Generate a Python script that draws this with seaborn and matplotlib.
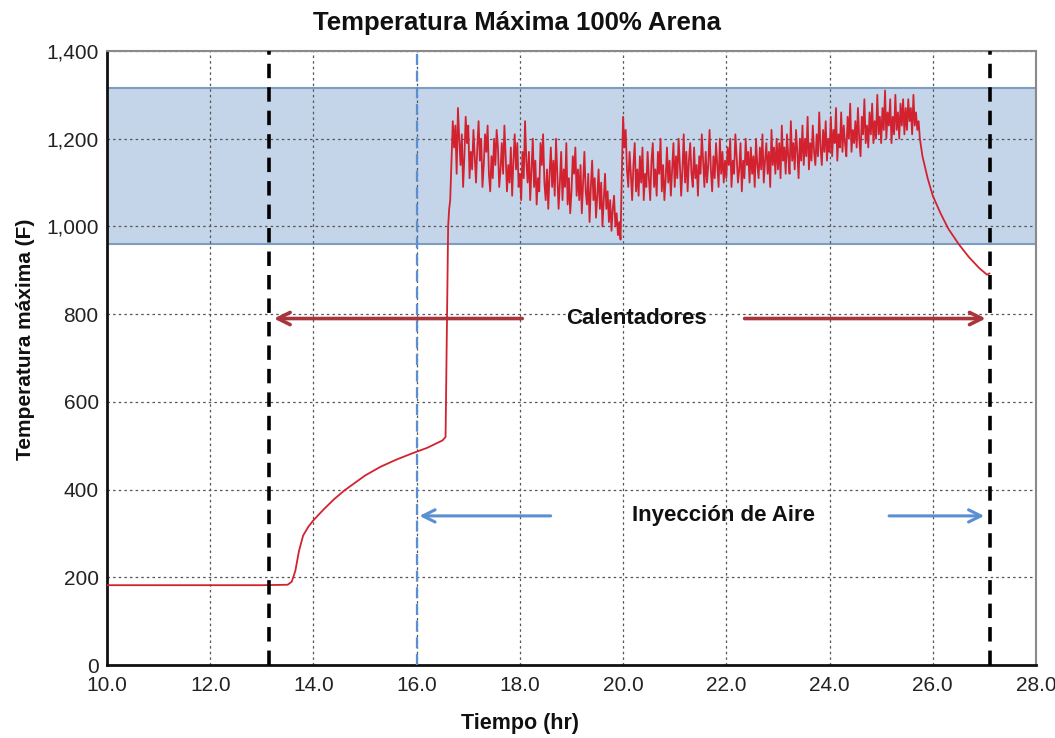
import numpy as np
import pandas as pd
import matplotlib
matplotlib.use("Agg")
import matplotlib.pyplot as plt
import seaborn as sns
from matplotlib.ticker import FuncFormatter

# ---------------- data ----------------
# pre-ignition / heating phase (hours, °F)
heat_time = [10.0, 11.0, 12.0, 13.0, 13.5, 13.58, 13.65, 13.72, 13.8, 13.9, 14.0, 14.2, 14.4,
             14.6, 14.8, 15.0, 15.3, 15.6, 15.9, 16.2, 16.5, 16.56, 16.59, 16.61, 16.63]
heat_temp = [182, 182, 182, 182, 183, 190, 215, 260, 295, 315, 330, 355, 378,
             398, 415, 432, 452, 468, 482, 495, 512, 520, 800, 1000, 1040]

# combustion phase, logged every 0.025 h starting at 16.65 h
comb_start = 16.65
comb_dt = 0.025
comb_temp = [
    1060, 1150, 1240, 1180, 1230, 1120, 1270, 1200, 1140, 1210, 1090, 1160, 1250, 1190, 1230, 1110, 1170, 1130, 1220, 1160,
    1100, 1180, 1240, 1150, 1200, 1090, 1140, 1210, 1170, 1230, 1120, 1080, 1160, 1110, 1200, 1140, 1220, 1180, 1090, 1130,
    1190, 1120, 1230, 1160, 1080, 1140, 1100, 1180, 1070, 1150, 1210, 1130, 1190, 1090, 1120, 1060, 1170, 1110, 1240, 1150,
    1100, 1170, 1060, 1130, 1200, 1090, 1150, 1050, 1110, 1080, 1190, 1140, 1210, 1100, 1060, 1130, 1040, 1120, 1180, 1090,
    1150, 1070, 1200, 1120, 1040, 1100, 1170, 1060, 1130, 1090, 1190, 1050, 1110, 1030, 1080, 1160, 1120, 1180, 1070, 1130,
    1060, 1140, 1030, 1100, 1170, 1080, 1050, 1120, 1010, 1090, 1150, 1060, 1110, 1020, 1070, 1130, 1040, 1100, 1000, 1060,
    1120, 1040, 1080, 1010, 1060, 990, 1040, 1070, 1000, 1030, 980, 1010, 970, 1120,
    1250, 1180, 1220, 1130, 1090, 1170, 1120, 1060, 1140, 1190, 1080, 1130, 1070, 1160, 1100, 1180, 1060, 1120, 1090, 1170,
    1110, 1060, 1150, 1190, 1090, 1130, 1070, 1170, 1120, 1200, 1080, 1140, 1060, 1110, 1180, 1100, 1150, 1070, 1130, 1190,
    1090, 1160, 1110, 1200, 1140, 1070, 1130, 1210, 1100, 1170, 1080, 1150, 1190, 1120, 1090, 1180, 1110, 1140, 1070, 1160,
    1120, 1210, 1150, 1090, 1170, 1100, 1140, 1220, 1130, 1080, 1160, 1110, 1190, 1140, 1090, 1200, 1120, 1170, 1100, 1150,
    1110, 1180, 1140, 1200, 1090, 1150, 1120, 1210, 1160, 1100, 1130, 1190, 1080, 1150, 1110, 1200, 1140, 1170, 1100, 1180,
    1120, 1160, 1090, 1200, 1140, 1110, 1180, 1130, 1210, 1100, 1150, 1190, 1120, 1170, 1090, 1220, 1140, 1180, 1120, 1200,
    1130, 1190, 1110, 1230, 1150, 1180, 1120, 1210, 1160, 1120, 1240, 1150, 1190, 1130, 1220, 1170, 1110, 1200, 1150, 1230,
    1140, 1200, 1160, 1250, 1130, 1190, 1150, 1230, 1170, 1140, 1210, 1160, 1260, 1180, 1140, 1220, 1170, 1240, 1150, 1200,
    1170, 1250, 1160, 1220, 1190, 1270, 1150, 1210, 1180, 1260, 1170, 1230, 1190, 1160, 1250, 1200, 1280, 1170, 1220, 1190,
    1240, 1180, 1270, 1200, 1160, 1250, 1210, 1290, 1190, 1230, 1180, 1260, 1210, 1280, 1190, 1240, 1200, 1300, 1210, 1250,
    1190, 1270, 1220, 1310, 1200, 1260, 1230, 1290, 1190, 1250, 1210, 1300, 1220, 1260, 1200, 1280, 1230, 1290, 1210, 1270,
    1220, 1290, 1240, 1270, 1210, 1300, 1230, 1260, 1220, 1240,
]

# cool-down phase after heaters off
cool_time = [25.75, 25.8, 25.9, 26.0, 26.15, 26.3, 26.5, 26.7, 26.9, 27.05, 27.1]
cool_temp = [1200, 1160, 1110, 1070, 1030, 995, 960, 930, 905, 890, 893]

# reference markers
band_low, band_high = 960, 1316
heater_on, heater_off = 13.13, 27.1
air_on = 16.0

x_ticks = [10, 12, 14, 16, 18, 20, 22, 24, 26, 28]
y_ticks = [0, 200, 400, 600, 800, 1000, 1200, 1400]

# ---------------- build frame ----------------
comb_time = [comb_start + comb_dt * i for i in range(len(comb_temp))]
df = pd.DataFrame({
    "Tiempo": heat_time + comb_time + cool_time,
    "Temp": heat_temp + comb_temp + cool_temp,
})

# ---------------- plot ----------------
sns.set_theme(style="white")
plt.rcParams["font.family"] = ["Liberation Sans", "DejaVu Sans"]

fig = plt.figure(figsize=(10.55, 7.38), dpi=100)
ax = fig.add_axes([0.1014, 0.0989, 0.8806, 0.832])

ax.axhspan(band_low, band_high, facecolor="#c5d5e9", edgecolor="#7b9cc3", lw=1.5, zorder=0.4)

sns.lineplot(data=df, x="Tiempo", y="Temp", ax=ax, color="#d3222f", lw=1.3,
             estimator=None, sort=False, zorder=3)

ax.axvline(heater_on, color="black", ls=(0, (4, 2.5)), lw=2.6, zorder=4)
ax.axvline(heater_off, color="black", ls=(0, (4, 2.5)), lw=2.6, zorder=4)
ax.axvline(air_on, color="#5a8fd2", ls=(0, (5, 2.5)), lw=1.6, zorder=4)

ax.set_xlim(10, 28)
ax.set_ylim(0, 1400)
ax.set_xticks(x_ticks)
ax.set_yticks(y_ticks)
ax.xaxis.set_major_formatter(FuncFormatter(lambda v, p: f"{v:.1f}"))
ax.yaxis.set_major_formatter(FuncFormatter(lambda v, p: f"{int(v):,}"))

ax.set_axisbelow("line")
ax.grid(True, which="major", color="#555555", ls=(0, (2, 2.5)), lw=0.9)

for s in ["left", "bottom"]:
    ax.spines[s].set_color("#111111")
    ax.spines[s].set_linewidth(2.0)
for s in ["top", "right"]:
    ax.spines[s].set_color("#8a8a8a")
    ax.spines[s].set_linewidth(1.5)

ax.tick_params(axis="both", which="major", labelsize=15, colors="#222222",
               direction="inout", length=8, width=1.2, pad=2)
ax.tick_params(axis="x", pad=4)

ax.set_xlabel("Tiempo (hr)", fontsize=15.5, fontweight="bold", labelpad=3, color="#111111")
ax.xaxis.set_label_coords(0.445, -0.078)
ax.set_ylabel("Temperatura máxima (F)", fontsize=15, fontweight="bold", labelpad=6, color="#111111")
ax.yaxis.set_label_coords(-0.077, 0.53)
ax.set_title("Temperatura Máxima 100% Arena", fontsize=18.5, fontweight="bold", pad=15,
             color="#111111", x=0.441)

# annotations
red_arrow = dict(arrowstyle="->", color="#a8353b", lw=2.6, mutation_scale=22)
blue_arrow = dict(arrowstyle="->", color="#5a8fd2", lw=2.2, mutation_scale=22)
ax.annotate("", xy=(heater_on + 0.05, 790), xytext=(18.1, 790), arrowprops=red_arrow, zorder=5)
ax.annotate("", xy=(heater_off - 0.02, 790), xytext=(22.3, 790), arrowprops=red_arrow, zorder=5)
ax.text(20.25, 790, "Calentadores", ha="center", va="center", fontsize=16, fontweight="bold",
        color="#111111", zorder=6)
ax.annotate("", xy=(air_on, 340), xytext=(18.65, 340), arrowprops=blue_arrow, zorder=5)
ax.annotate("", xy=(heater_off - 0.05, 340), xytext=(25.1, 340), arrowprops=blue_arrow, zorder=5)
ax.text(21.95, 340, "Inyección de Aire", ha="center", va="center", fontsize=16, fontweight="bold",
        color="#111111", zorder=6)

fig.savefig("out.png", dpi=100)
